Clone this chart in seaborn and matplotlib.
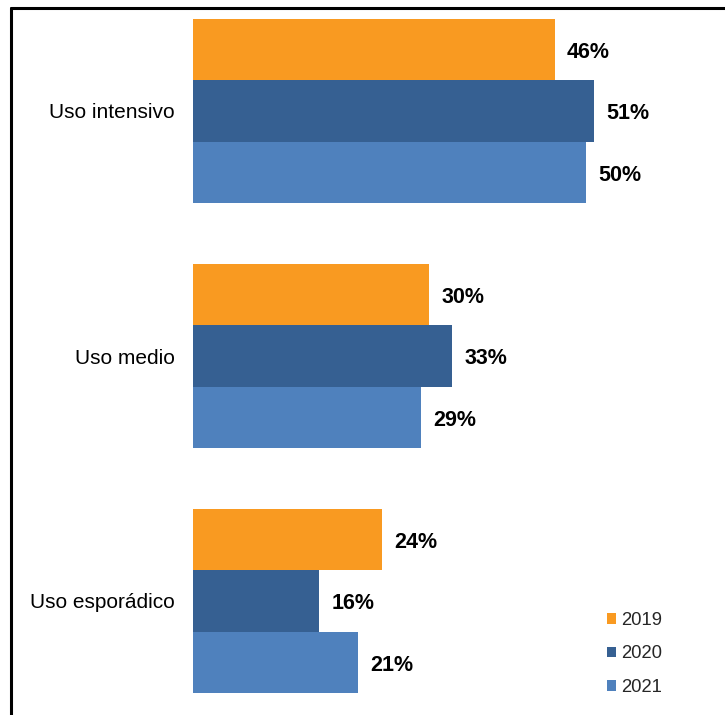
import matplotlib
matplotlib.use("Agg")
import matplotlib.pyplot as plt
from matplotlib.lines import Line2D
import seaborn as sns
import pandas as pd

categories = ["Uso intensivo", "Uso medio", "Uso esporádico"]
years = ["2019", "2020", "2021"]
values_2019 = [46, 30, 24]
values_2020 = [51, 33, 16]
values_2021 = [50, 29, 21]
colors = ["#F99A21", "#366092", "#4F81BD"]

rows = []
for year, vals in zip(years, [values_2019, values_2020, values_2021]):
    for cat, v in zip(categories, vals):
        rows.append({"Uso": cat, "Año": year, "Valor": v})
df = pd.DataFrame(rows)

sns.set_theme(style="white")
plt.rcParams["font.family"] = ["Liberation Sans", "DejaVu Sans"]

fig = plt.figure(figsize=(7.25, 7.15), dpi=100)
ax = fig.add_axes([193 / 725, 0, (725 - 193) / 725, (715 - 8) / 715])

sns.barplot(data=df, y="Uso", x="Valor", hue="Año", order=categories,
            hue_order=years, palette=colors, orient="h", width=0.75,
            saturation=1, ax=ax, legend=True, linewidth=0)

for container, vals in zip(ax.containers, [values_2019, values_2020, values_2021]):
    anns = ax.bar_label(container, labels=[f"{v}%" for v in vals], padding=9,
                        fontsize=15.5, fontweight="bold", color="black")
    for a in anns:
        a.xyann = (9, -2)

ax.set_xlim(0, (725 - 193) / 7.86)
ax.set_ylim((715 - 111) / 245, -(111 - 8) / 245)
ax.set_xlabel("")
ax.set_ylabel("")
ax.set_xticks([])
ax.tick_params(axis="y", length=0, pad=13, labelsize=15, labelcolor="#000000")
for s in ax.spines.values():
    s.set_visible(False)

handles, labels = ax.get_legend_handles_labels()
ax.legend(handles, labels, loc="center left", bbox_to_anchor=(590 / 725, 1 - 654 / 715),
          bbox_transform=fig.transFigure, frameon=False, fontsize=13.3,
          handlelength=0.5, handleheight=0.5, handletextpad=0.3, labelspacing=0.89)

# frame lines along the top and left edges
fig.add_artist(Line2D([11 / 725, 1], [1 - 8 / 715, 1 - 8 / 715], color="black", lw=2.2,
                      transform=fig.transFigure))
fig.add_artist(Line2D([11 / 725, 11 / 725], [0, 1 - 8 / 715], color="black", lw=2.2,
                      transform=fig.transFigure))

fig.savefig("out.png", dpi=100, facecolor="white")
